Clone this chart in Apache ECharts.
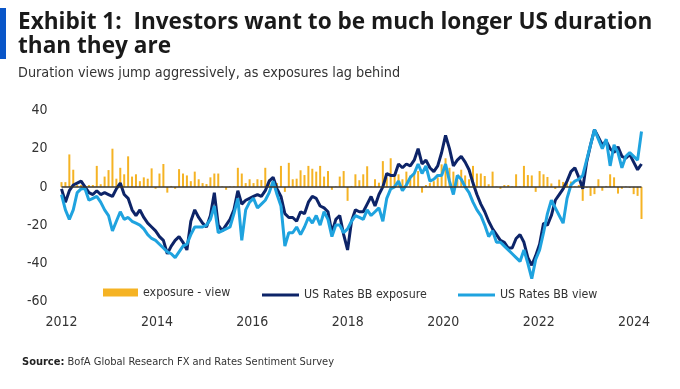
<!DOCTYPE html>
<html><head><meta charset="utf-8">
<script src="https://cdn.jsdelivr.net/npm/echarts@6/dist/echarts.min.js"></script>
<style>html,body{margin:0;padding:0;background:#fff;}#c{width:680px;height:389px;}</style>
</head><body><div id="c"></div>
<script>
// US Rates BB exposure (dark navy line)
const exposure = [
 -1,-8,-2,1,2,3,0,-3,-4,-2, -4,-3,-4,-5,-1,2,-4,-6,-12,-15,
 -12,-16,-19,-21,-23,-26,-28,-35,-31,-28, -26,-29,-33,-18,-12,-16,-19,-21,-15,-3,
 -20,-23,-20,-17,-12,-2,-9,-7,-6,-5, -4,-5,-2,3,5,-1,-5,-14,-16,-16,
 -18,-13,-14,-8,-5,-6,-10,-11,-13,-24, -17,-15,-25,-33,-18,-12,-13,-13,-9,-5,
 -10,-4,0,7,6,6,12,10,12,11, 14,20,12,14,10,8,11,18,27,20,
 11,14,16,13,9,2,-4,-9,-13,-18, -22,-25,-28,-29,-32,-32,-27,-25,-29,-37,
 -41,-36,-30,-19,-20,-15,-7,-4,-1,3, 8,10,5,-1,13,22,30,26,22,24,
 20,18,21,16,15,17,13,9,12
];
// US Rates BB view (light blue line)
const view = [
 -4,-12,-17,-12,-3,-1,-1,-7,-6,-5, -8,-12,-15,-23,-18,-13,-17,-16,-18,-19,
 -20,-22,-25,-27,-28,-30,-32,-34,-35,-37, -34,-31,-30,-25,-21,-21,-21,-20,-17,-10,
 -24,-23,-22,-21,-14,-6,-28,-12,-8,-6, -11,-9,-7,-3,3,-4,-10,-31,-24,-24,
 -21,-25,-21,-16,-19,-15,-20,-13,-17,-26, -20,-20,-24,-22,-18,-15,-16,-17,-12,-15,
 -13,-11,-18,-6,-1,0,3,-2,1,5, 7,12,7,11,3,4,6,6,12,3,
 -4,6,4,0,-3,-8,-12,-15,-20,-26, -23,-29,-29,-31,-33,-35,-37,-39,-33,-40,
 -48,-38,-33,-24,-14,-7,-11,-15,-19,-6, 1,3,4,6,14,22,30,25,20,25,
 11,22,18,10,16,18,16,14,29
];
// exposure - view (orange bars)
const gap = [
 2.5,2.5,17,9,1,1,0.5,1,1,11, 1.4,5.4,8.8,20,4.3,10,6.6,16,5.4,6.6,
 3,5,4.3,9.7,-1,7,12,-3,0.5,-1, 9.3,7,6,3,8,4,2,1.5,5,7,
 7,0.3,-1.5,0.3,0.3,10,7,2,4,2, 4,3.6,10,4,3,2,11,-2.6,12.6,4,
 4.3,8.7,6.2,11,9.5,8,11,5.4,8.3,-1.5, 0.3,5.4,8.3,-7.3,0.5,6.6,3.5,6.6,10.8,0.3,
 4,2.2,13.5,5,15,6,6.6,4,8,6, 7,8.3,-3,1,2,3,5,11.8,15,10,
 8,5,9,6,4,11,7,7,5.7,1.4, 8,0.3,-1,1,1,0.3,6.6,0.3,11,6.2,
 6,-2.6,8.3,6.6,5.2,1.8,-1.1,3.8,2.6,2.4, 2.8,0.3,1,-7.3,-0.5,-4.7,-3.8,4,-2,0.5,
 6.6,5,-3.5,-1,0.3,-0.5,-3.8,-4.7,-16.8
];
// survey dates: roughly every 30 days from Jan 2012
const firstSurvey = Date.UTC(2012, 0, 1);
const surveyDates = exposure.map((_, i) => firstSurvey + i * 30 * 86400000);
const tickYears = [2012, 2014, 2016, 2018, 2020, 2022, 2024];
const yTicks = { min: -60, max: 40, step: 20 };

const NARROW = "'DejaVu Sans Condensed','Liberation Sans Narrow',sans-serif";
const pair = arr => arr.map((v, i) => [surveyDates[i], v]);
const yearStamps = tickYears.map(y => Date.UTC(y, 0, 1));
const legendText = { color: '#333', fontSize: 12.3, fontFamily: NARROW };

const chart = echarts.init(document.getElementById('c'), null, {renderer: 'canvas'});
chart.setOption({
  animation: false,
  backgroundColor: '#ffffff',
  grid: { left: 61.5, right: 38.5, top: 110.5, height: 191, containLabel: false },
  xAxis: {
    type: 'value',
    min: surveyDates[0],
    max: surveyDates[surveyDates.length - 1],
    axisLine: { show: false },
    axisTick: { show: false },
    splitLine: { show: false },
    axisLabel: {
      customValues: yearStamps,
      formatter: v => String(new Date(v).getUTCFullYear()),
      color: '#333', fontSize: 14, fontFamily: NARROW, margin: 13.5, hideOverlap: false,
      showMinLabel: true, showMaxLabel: true
    }
  },
  yAxis: {
    type: 'value', min: yTicks.min, max: yTicks.max, interval: yTicks.step,
    axisLine: { show: false }, axisTick: { show: false }, splitLine: { show: false },
    axisLabel: { color: '#333', fontSize: 14, fontFamily: NARROW, margin: 14 }
  },
  legend: [
    { data: ['exposure - view'], left: 103, top: 286.5, padding: 0, itemWidth: 35, itemHeight: 8, icon: 'rect',
      itemGap: 4, textStyle: legendText },
    { data: ['US Rates BB exposure'], left: 262, top: 289, padding: 0, itemWidth: 37, itemHeight: 3, icon: 'rect',
      textStyle: legendText },
    { data: ['US Rates BB view'], left: 458, top: 289, padding: 0, itemWidth: 37, itemHeight: 3, icon: 'rect',
      textStyle: legendText }
  ],
  series: [
    { name: 'exposure - view', type: 'bar', data: pair(gap), barWidth: 2,
      itemStyle: { color: '#f5b324' },
      markLine: { silent: true, symbol: 'none', label: { show: false },
        lineStyle: { color: '#333333', width: 1.5, type: 'solid' }, data: [{ yAxis: 0 }] } },
    { name: 'US Rates BB exposure', type: 'line', data: pair(exposure), showSymbol: false, symbol: 'none',
      lineStyle: { color: '#0d2468', width: 3 }, itemStyle: { color: '#0d2468' } },
    { name: 'US Rates BB view', type: 'line', data: pair(view), showSymbol: false, symbol: 'none',
      lineStyle: { color: '#1fa3df', width: 3 }, itemStyle: { color: '#1fa3df' } }
  ],
  graphic: [
    { type: 'rect', left: 0, top: 8, shape: { width: 6, height: 51 }, style: { fill: '#0a56c8' } },
    { type: 'text', left: 18, top: 11, style: { text: 'Exhibit 1:  Investors want to be much longer US duration',
      font: "bold 22.6px 'Open Sans', sans-serif", fill: '#1a1a1a' } },
    { type: 'text', left: 18, top: 35.5, style: { text: 'than they are',
      font: "bold 22.6px 'Open Sans', sans-serif", fill: '#1a1a1a' } },
    { type: 'text', left: 18, top: 66, style: { text: 'Duration views jump aggressively, as exposures lag behind',
      font: "14.3px " + NARROW, fill: '#333' } },
    { type: 'text', left: 22, top: 357, style: {
      text: '{b|Source:} BofA Global Research FX and Rates Sentiment Survey',
      font: "11px " + NARROW, fill: '#333',
      rich: { b: { fontWeight: 'bold', fontSize: 11, fontFamily: NARROW, fill: '#222' } } } }
  ]
});
</script></body></html>
